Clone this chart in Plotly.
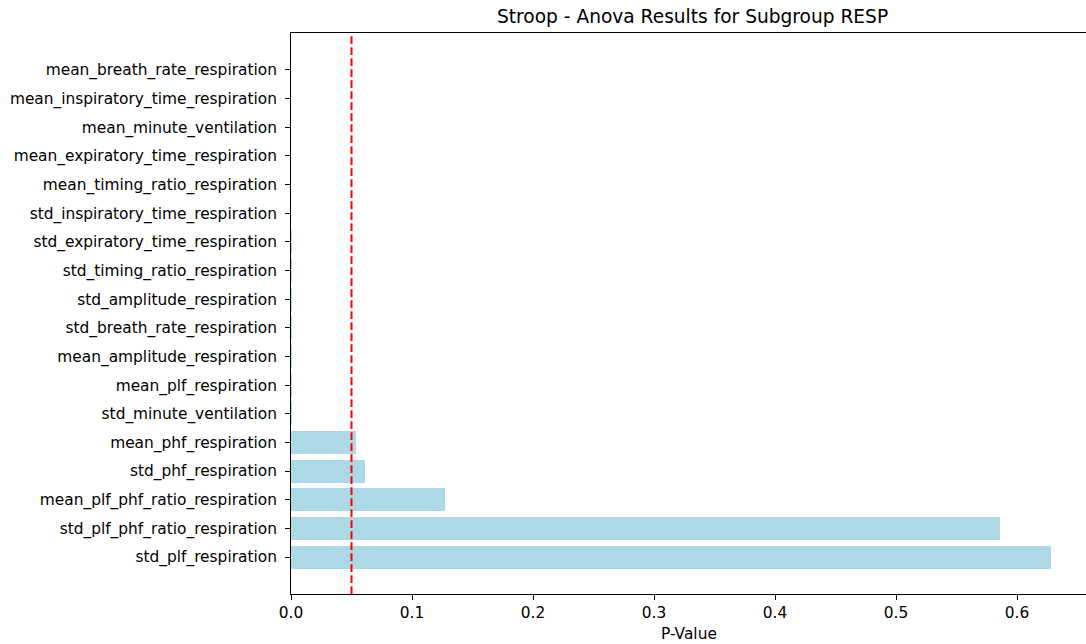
import plotly.graph_objects as go

features = [
    "std_plf_respiration",
    "std_plf_phf_ratio_respiration",
    "mean_plf_phf_ratio_respiration",
    "std_phf_respiration",
    "mean_phf_respiration",
    "std_minute_ventilation",
    "mean_plf_respiration",
    "mean_amplitude_respiration",
    "std_breath_rate_respiration",
    "std_amplitude_respiration",
    "std_timing_ratio_respiration",
    "std_expiratory_time_respiration",
    "std_inspiratory_time_respiration",
    "mean_timing_ratio_respiration",
    "mean_expiratory_time_respiration",
    "mean_minute_ventilation",
    "mean_inspiratory_time_respiration",
    "mean_breath_rate_respiration",
]
p_values = [
    0.6278, 0.5856, 0.1270, 0.0608, 0.0537,
    2.0e-4, 1.5e-4, 8.0e-5, 5.0e-5, 3.0e-5,
    1.5e-5, 8.0e-6, 4.0e-6, 2.0e-6, 8.0e-7,
    3.0e-7, 1.0e-7, 2.0e-8,
]
threshold = 0.05
title_text = "Stroop - Anova Results for Subgroup RESP"
x_label = "P-Value"
x_ticks = [0.0, 0.1, 0.2, 0.3, 0.4, 0.5, 0.6]

W, H = 1086, 644
L, R, T, B = 291, 0, 33, 50
plot_w = W - L - R
plot_h = H - T - B

fig = go.Figure()
fig.add_trace(go.Bar(
    x=p_values,
    y=list(range(len(features))),
    orientation="h",
    width=0.8,
    marker=dict(color="#ADD8E6", line=dict(width=0)),
    hoverinfo="x+text",
    text=features,
    textposition="none",
))

fig.add_shape(
    type="line", x0=threshold, x1=threshold, y0=0, y1=1,
    xref="x", yref="paper",
    line=dict(color="red", width=2, dash="7.7px,3.3px"),
)

font_family = "DejaVu Sans"
tick_size = 15.4
fig.update_layout(
    width=W, height=H,
    margin=dict(l=L, r=R, t=T, b=B),
    paper_bgcolor="white",
    plot_bgcolor="white",
    showlegend=False,
    font=dict(family=font_family, size=tick_size, color="black"),
    bargap=0,
)
fig.update_xaxes(
    range=[0, plot_w / 1210.0],
    tickvals=x_ticks,
    ticktext=[f"{v:.1f}" for v in x_ticks],
    ticks="outside", ticklen=5, tickwidth=1, tickcolor="black",
    showline=True, linecolor="black", linewidth=1, mirror=True,
    showgrid=False, zeroline=False,
    tickfont=dict(family=font_family, size=tick_size, color="black"),
)
fig.update_yaxes(
    range=[-1.29, len(features) - 1 + 1.29],
    tickvals=list(range(len(features))),
    ticktext=features,
    ticks="outside", ticklen=5, tickwidth=1, tickcolor="black",
    ticklabelstandoff=5,
    showline=True, linecolor="black", linewidth=1, mirror=False,
    showgrid=False, zeroline=False,
    tickfont=dict(family=font_family, size=tick_size, color="black"),
)

fig.add_annotation(
    text=title_text, xref="paper", yref="paper",
    x=(692 - L) / plot_w, y=(H - B - 16) / plot_h, xanchor="center", yanchor="middle",
    showarrow=False, font=dict(family=font_family, size=18.6, color="black"),
)
fig.add_annotation(
    text=x_label, xref="paper", yref="paper",
    x=(689 - L) / plot_w, y=-(634 - (H - B)) / plot_h, xanchor="center", yanchor="middle",
    showarrow=False, font=dict(family=font_family, size=tick_size, color="black"),
)

fig.write_html("out.html")
